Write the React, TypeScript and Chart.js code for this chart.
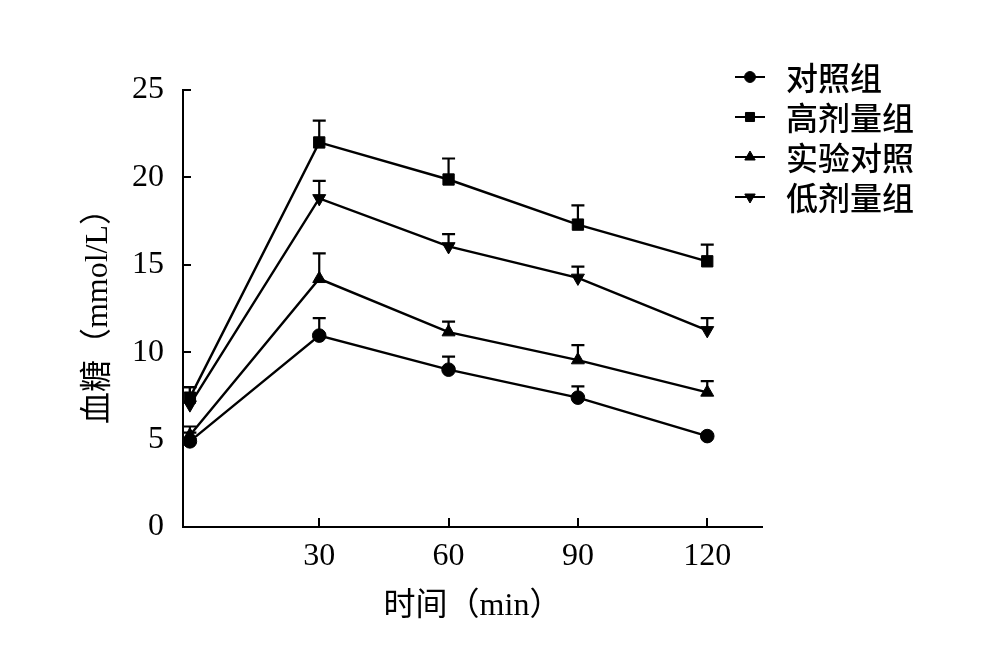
import React, { useEffect, useRef } from 'react';
import { Chart, registerables } from 'chart.js';
import { drawPoint } from 'chart.js/helpers';

Chart.register(...registerables);

// time points (min) and axis ticks
const times = [0, 30, 60, 90, 120];
const xTicks = [30, 60, 90, 120];

const seriesNames = ['对照组', '高剂量组', '实验对照', '低剂量组'];

// mean blood glucose (mmol/L) and the upper error (SD)
const controlMean = [4.9, 10.95, 9.0, 7.4, 5.2];
const controlSd = [0.5, 1.0, 0.75, 0.65, 0.12];
const highMean = [7.4, 22.0, 19.88, 17.3, 15.2];
const highSd = [0.6, 1.25, 1.2, 1.1, 0.95];
const expMean = [5.25, 14.2, 11.15, 9.55, 7.7];
const expSd = [0.5, 1.45, 0.6, 0.85, 0.65];
const lowMean = [7.0, 18.8, 16.05, 14.25, 11.25];
const lowSd = [1.0, 1.0, 0.7, 0.65, 0.7];

const serif = "'Liberation Serif', 'Noto Sans CJK SC'";

// upward-only error bars with a cap, drawn under the markers
const errorBars = {
  id: 'errorBars',
  beforeDatasetsDraw(chart) {
    const { ctx } = chart;
    const yScale = chart.scales.y;
    ctx.save();
    ctx.strokeStyle = '#000';
    ctx.lineWidth = 2.2;
    chart.data.datasets.forEach((ds, i) => {
      const meta = chart.getDatasetMeta(i);
      meta.data.forEach((pt, j) => {
        const top = yScale.getPixelForValue(ds.data[j].y + ds.errors[j]);
        ctx.beginPath();
        ctx.moveTo(pt.x, pt.y);
        ctx.lineTo(pt.x, top);
        ctx.moveTo(pt.x - 6.5, top);
        ctx.lineTo(pt.x + 6.5, top);
        ctx.stroke();
      });
    });
    ctx.restore();
  },
};

// legend on the upper right: short line + marker + name
const sideLegend = {
  id: 'sideLegend',
  afterDraw(chart) {
    const { ctx } = chart;
    ctx.save();
    chart.data.datasets.forEach((ds, i) => {
      const rowY = 77 + i * 40;
      ctx.strokeStyle = '#000';
      ctx.lineWidth = 2;
      ctx.beginPath();
      ctx.moveTo(735, rowY);
      ctx.lineTo(765, rowY);
      ctx.stroke();
      ctx.fillStyle = '#000';
      ctx.strokeStyle = '#000';
      ctx.lineWidth = 1;
      drawPoint(
        ctx,
        { pointStyle: ds.pointStyle, radius: ds.pointRadius * 0.8, rotation: ds.pointRotation || 0, borderWidth: 1 },
        750,
        rowY
      );
      ctx.font = "500 32px 'Noto Sans CJK SC'";
      ctx.textBaseline = 'middle';
      ctx.textAlign = 'left';
      ctx.fillText(ds.label, 786, rowY + 1);
    });
    ctx.restore();
  },
};

const makeSeries = (label, means, errors, pointStyle, radius, rotation = 0) => ({
  label,
  data: times.map((t, j) => ({ x: t, y: means[j] })),
  errors,
  borderColor: '#000',
  backgroundColor: '#000',
  borderWidth: 2.4,
  pointStyle,
  pointRadius: radius,
  pointRotation: rotation,
  pointBorderWidth: 1,
  pointBackgroundColor: '#000',
  pointBorderColor: '#000',
  tension: 0,
  fill: false,
  clip: false,
});

const GlucoseChart = () => {
  const canvasRef = useRef(null);

  useEffect(() => {
    if (!canvasRef.current) return;

    const chart = new Chart(canvasRef.current, {
      type: 'line',
      data: {
        datasets: [
          makeSeries(seriesNames[0], controlMean, controlSd, 'circle', 6.8),
          makeSeries(seriesNames[1], highMean, highSd, 'rect', 8),
          makeSeries(seriesNames[2], expMean, expSd, 'triangle', 7.5),
          makeSeries(seriesNames[3], lowMean, lowSd, 'triangle', 7.5, 180),
        ],
      },
      options: {
        animation: false,
        responsive: true,
        maintainAspectRatio: false,
        layout: { padding: { top: 90, right: 234, left: 0, bottom: 0 } },
        plugins: { legend: { display: false }, tooltip: { enabled: false } },
        scales: {
          x: {
            type: 'linear',
            min: -1.6,
            max: 132.7,
            afterBuildTicks: (s) => {
              s.ticks = xTicks.map((v) => ({ value: v }));
            },
            afterFit: (s) => {
              s.height = 122;
            },
            grid: { drawOnChartArea: false, drawTicks: true, tickLength: -9, color: '#000', lineWidth: 2 },
            border: { color: '#000', width: 2 },
            ticks: { padding: 19, color: '#000', font: { family: serif, size: 32 } },
            title: {
              display: true,
              text: '时间（min）',
              color: '#000',
              font: { family: serif, size: 32 },
              padding: { top: 0, bottom: 23 },
            },
          },
          y: {
            min: 0,
            max: 25,
            ticks: { stepSize: 5, padding: 27, color: '#000', font: { family: serif, size: 32 } },
            afterFit: (s) => {
              s.width = 183;
            },
            grid: { drawOnChartArea: false, drawTicks: true, tickLength: -8, color: '#000', lineWidth: 2 },
            border: { color: '#000', width: 2 },
            title: {
              display: true,
              text: '血糖（mmol/L）',
              color: '#000',
              font: { family: serif, size: 32 },
              padding: { top: 79, bottom: 0 },
            },
          },
        },
      },
      plugins: [errorBars, sideLegend],
    });

    return () => {
      chart.destroy();
    };
  }, []);

  return <canvas ref={canvasRef} />;
};

export default function App() {
  return (
    <div style={{ position: 'absolute', left: 0, top: 0, width: 996, height: 649, background: '#fff' }}>
      <GlucoseChart />
    </div>
  );
}
